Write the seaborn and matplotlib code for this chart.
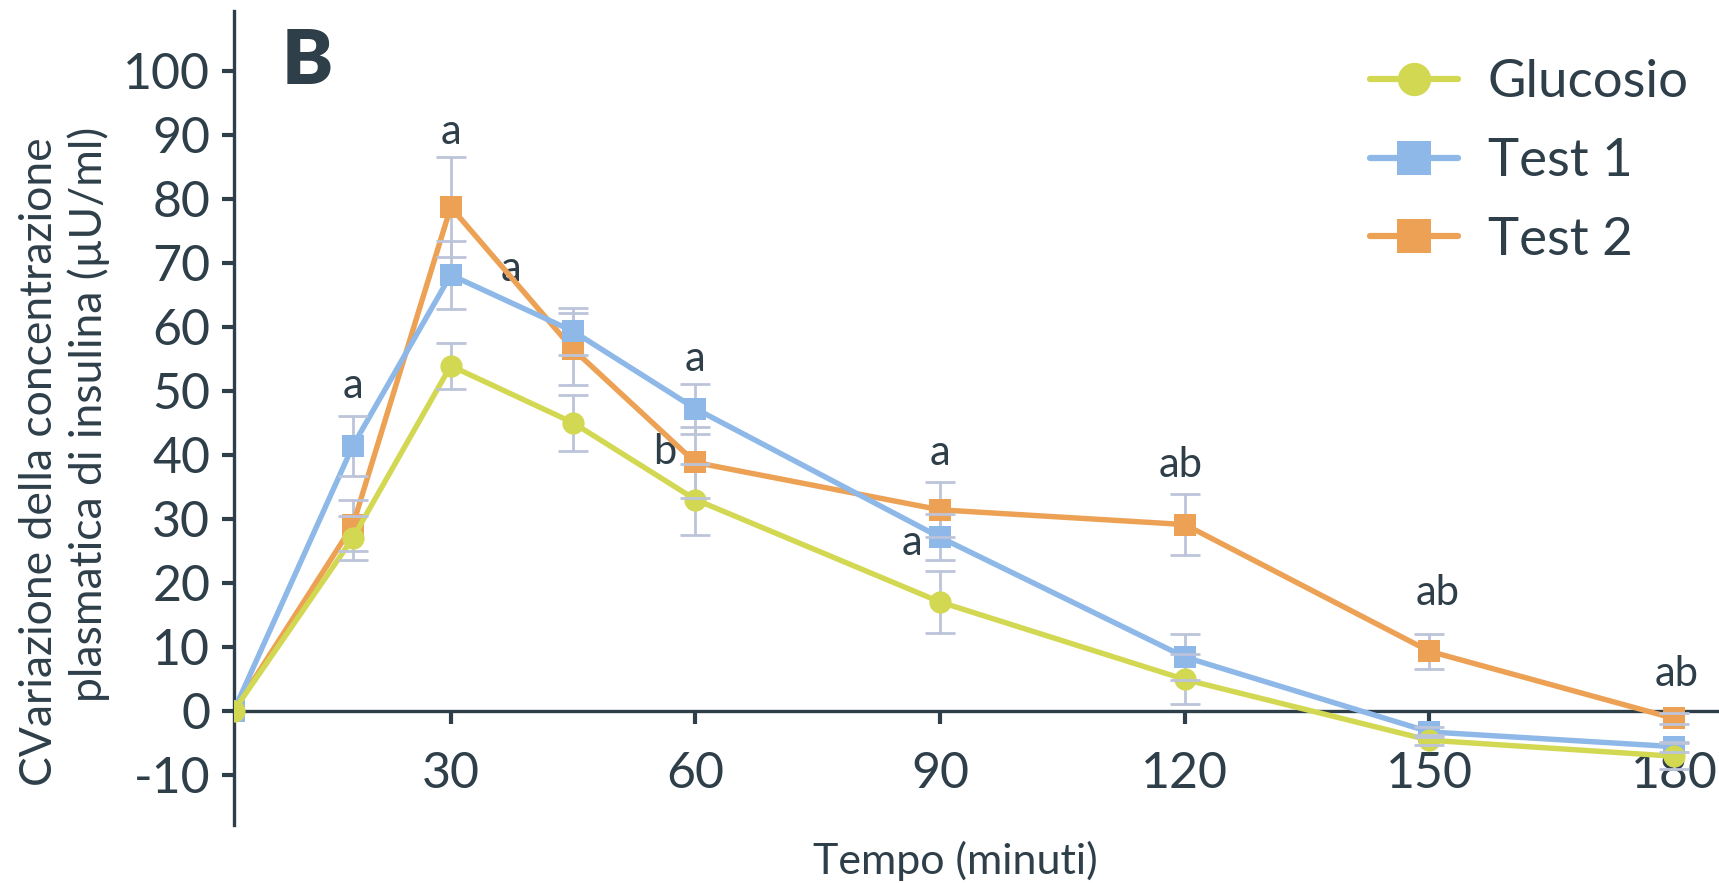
import numpy as np
import pandas as pd
import seaborn as sns
import matplotlib.pyplot as plt

# tempi (i primi due punti sono disegnati a ~3.4 e ~18)
tempo = [3.4, 18, 30, 45, 60, 90, 120, 150, 180]

glucosio = [0, 27.0, 53.9, 45.0, 33.0, 17.0, 4.9, -4.6, -7.1]
glucosio_err = [0, 3.5, 3.6, 4.4, 5.6, 4.9, 3.9, 0.8, 2.0]
test1 = [0, 41.4, 68.1, 59.3, 47.2, 27.1, 8.4, -3.3, -5.6]
test1_err = [0, 4.7, 5.3, 3.7, 3.9, 3.6, 3.6, 0.8, 0.8]
test2 = [0, 29.0, 78.7, 56.5, 38.8, 31.4, 29.1, 9.3, -1.2]
test2_err = [0, 4.0, 7.8, 5.6, 5.5, 4.3, 4.8, 2.7, 0.8]

serie = ['Glucosio', 'Test 1', 'Test 2']
colori = ['#d3d853', '#8db8e8', '#eca155']

# lettere di significatività
lettere = ['a', 'a', 'a', 'a', 'b', 'a', 'a', 'ab', 'ab', 'ab']
lettere_x = [18, 30, 37.4, 60, 56.3, 90, 86.6, 119.5, 151, 180.3]
lettere_y = [50.8, 90.4, 69.1, 54.9, 40.5, 40.3, 26.2, 38.4, 18.4, 5.7]

testo = '#2e3f4a'

df = pd.DataFrame({
    'tempo': tempo * 3,
    'valore': glucosio + test1 + test2,
    'serie': np.repeat(serie, len(tempo)),
})

sns.set_style('white')
plt.rcParams['font.family'] = ['Lato', 'DejaVu Sans']
plt.rcParams['axes.unicode_minus'] = False

fig = plt.figure(figsize=(17.19, 8.83), dpi=100)
ax = fig.add_axes([0.136, 0.066, 0.864, 0.922])

sns.lineplot(data=df, x='tempo', y='valore', hue='serie', style='serie',
             hue_order=serie, style_order=serie,
             palette=colori, markers={'Glucosio': 'o', 'Test 1': 's', 'Test 2': 's'},
             dashes=False, linewidth=3.9, markersize=16, markeredgewidth=0, ax=ax)

# glucosio sopra, test 2 sotto
for ln, z in zip(ax.lines[:3], [3.3, 3.2, 3.1]):
    ln.set_zorder(z)

for y, e in [(test2, test2_err), (test1, test1_err), (glucosio, glucosio_err)]:
    _, caps, bars = ax.errorbar(tempo[1:], y[1:], yerr=e[1:], fmt='none',
                                ecolor='#bcc4da', elinewidth=2, capsize=11, capthick=2)
    for c in caps:
        c.set_zorder(5)
    for b in bars:
        b.set_zorder(2.5)

for t, x, y in zip(lettere, lettere_x, lettere_y):
    ax.text(x, y, t, fontsize=30, color=testo, ha='center', va='center')

ax.text(12.4, 101.4, 'B', fontsize=55, fontweight='heavy', color=testo, ha='center', va='center')

ax.set_xlim(3.4, 185.5)
ax.set_ylim(-17.8, 109.4)
ax.set_xticks([30, 60, 90, 120, 150, 180])
ax.set_yticks(range(-10, 101, 10))

ax.spines['top'].set_visible(False)
ax.spines['right'].set_visible(False)
ax.spines['bottom'].set_position(('data', 0))
for s in ['left', 'bottom']:
    ax.spines[s].set_color(testo)
    ax.spines[s].set_linewidth(2.4)

ax.tick_params(axis='x', direction='out', length=9, width=3, color=testo,
               labelsize=36, labelcolor=testo, pad=20, bottom=True)
ax.tick_params(axis='y', direction='out', length=9, width=3, color=testo,
               labelsize=36, labelcolor=testo, pad=8, left=True)

ax.set_xlabel('')
ax.set_ylabel('')
ax.text(0.486, -0.044, 'Tempo (minuti)', transform=ax.transAxes, fontsize=31,
        color=testo, ha='center', va='center')
ax.text(-0.131, 0.446, 'CVariazione della concentrazione', transform=ax.transAxes,
        fontsize=32, color=testo, ha='center', va='center', rotation=90)
ax.text(-0.098, 0.504, 'plasmatica di insulina (µU/ml)', transform=ax.transAxes,
        fontsize=32, color=testo, ha='center', va='center', rotation=90)

sns.move_legend(ax, loc='upper left', bbox_to_anchor=(0.765, 0.94), frameon=False,
                title=None, fontsize=38, handlelength=1.67, handletextpad=0.56,
                labelspacing=0.6, borderpad=0, borderaxespad=0)
for h in ax.get_legend().legend_handles:
    h.set_markersize(24)
    h.set_linewidth(4.5)
for t in ax.get_legend().get_texts():
    t.set_color(testo)

fig.savefig('out.png', dpi=100)
